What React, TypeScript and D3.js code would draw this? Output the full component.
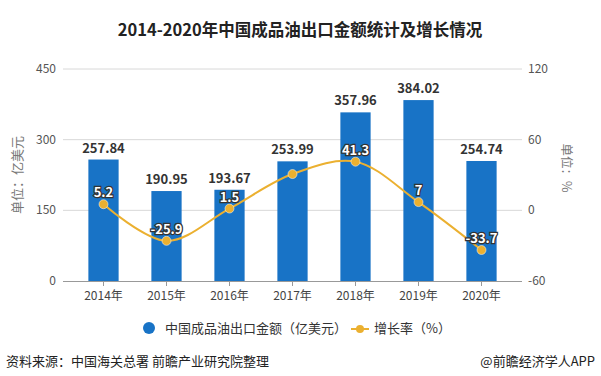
import React from "react";
import * as d3 from "d3";

const years = ["2014年", "2015年", "2016年", "2017年", "2018年", "2019年", "2020年"];
const amounts = [257.84, 190.95, 193.67, 253.99, 357.96, 384.02, 254.74];
const rates = [5.2, -25.9, 1.5, 30.8, 41.3, 7, -33.7];
const rateLabels = ["5.2", "-25.9", "1.5", "", "41.3", "7", "-33.7"];
const leftTicks = [0, 150, 300, 450];
const rightTicks = [-60, 0, 60, 120];

const FONT = "'Noto Sans CJK SC', 'Noto Sans', sans-serif";
const BAR = "#1873c6";
const LINE = "#ebb030";

export default function App() {
  const W = 601, H = 376;
  const x = d3.scaleBand<string>().domain(years).range([72, 513]).paddingInner(0.52).paddingOuter(0.26);
  const yL = d3.scaleLinear().domain([0, 450]).range([281, 69]);
  const yR = d3.scaleLinear().domain([-60, 120]).range([281, 69]);
  const cx = (d: string) => (x(d) as number) + x.bandwidth() / 2;
  const pts: [number, number][] = years.map((d, i) => [cx(d), yR(rates[i])]);
  const line = d3.line().curve(d3.curveCatmullRom.alpha(0.5))(pts) || "";

  return (
    <svg width={W} height={H} style={{ position: "absolute", left: 0, top: 0, background: "#fff" }} fontFamily={FONT}>
      <text x={300} y={36} textAnchor="middle" fontSize={16.5} fontWeight="bold" fill="#222">
        2014-2020年中国成品油出口金额统计及增长情况
      </text>
      {leftTicks.map((t) => (
        <g key={"l" + t}>
          {t !== 0 && <line x1={63} x2={522} y1={yL(t)} y2={yL(t)} stroke="#d8d8d8" />}
          <text x={56} y={yL(t) + 4} textAnchor="end" fontSize={12} fill="#555">{t}</text>
        </g>
      ))}
      {rightTicks.map((t) => (
        <text key={"r" + t} x={528} y={yR(t) + 4} fontSize={12} fill="#555">{t}</text>
      ))}
      <line x1={63} x2={522} y1={281.5} y2={281.5} stroke="#999" />
      {years.map((d) => (
        <g key={d}>
          <line x1={cx(d)} x2={cx(d)} y1={281} y2={286} stroke="#999" />
          <text x={cx(d)} y={300} textAnchor="middle" fontSize={12} fill="#444">{d}</text>
        </g>
      ))}
      {years.map((d, i) => (
        <g key={"b" + d}>
          <rect x={x(d)} y={yL(amounts[i])} width={x.bandwidth()} height={281 - yL(amounts[i])} fill={BAR} />
          <text x={cx(d)} y={yL(amounts[i]) - 7} textAnchor="middle" fontSize={13} fontWeight="bold" fill="#333">
            {amounts[i].toFixed(2)}
          </text>
        </g>
      ))}
      <path d={line} fill="none" stroke={LINE} strokeWidth={2} />
      {pts.map((p, i) => (
        <g key={"p" + i}>
          <circle cx={p[0]} cy={p[1]} r={4.5} fill={LINE} stroke="#fff" strokeWidth={0.5} />
          {rateLabels[i] && (
            <text x={p[0]} y={p[1] - 7} textAnchor="middle" fontSize={13} fontWeight="bold" fill="#fff"
              stroke="#333" strokeWidth={2.5} paintOrder="stroke">{rateLabels[i]}</text>
          )}
        </g>
      ))}
      <text transform="translate(22,175) rotate(-90)" textAnchor="middle" fontSize={13} fill="#777">单位：亿美元</text>
      <text transform="translate(562,168) rotate(90)" textAnchor="middle" fontSize={12.5} fill="#777">单位：%</text>
      <circle cx={149} cy={328} r={6} fill={BAR} />
      <text x={165} y={333} fontSize={13} fill="#333">中国成品油出口金额（亿美元）</text>
      <line x1={351} x2={369} y1={329} y2={329} stroke={LINE} strokeWidth={2} />
      <circle cx={360} cy={329} r={4} fill={LINE} />
      <text x={374} y={333} fontSize={13} fill="#333">增长率（%）</text>
      <text x={6} y={366} fontSize={13} fill="#222">资料来源：中国海关总署 前瞻产业研究院整理</text>
      <text x={595} y={366} textAnchor="end" fontSize={13} fill="#222">@前瞻经济学人APP</text>
    </svg>
  );
}
